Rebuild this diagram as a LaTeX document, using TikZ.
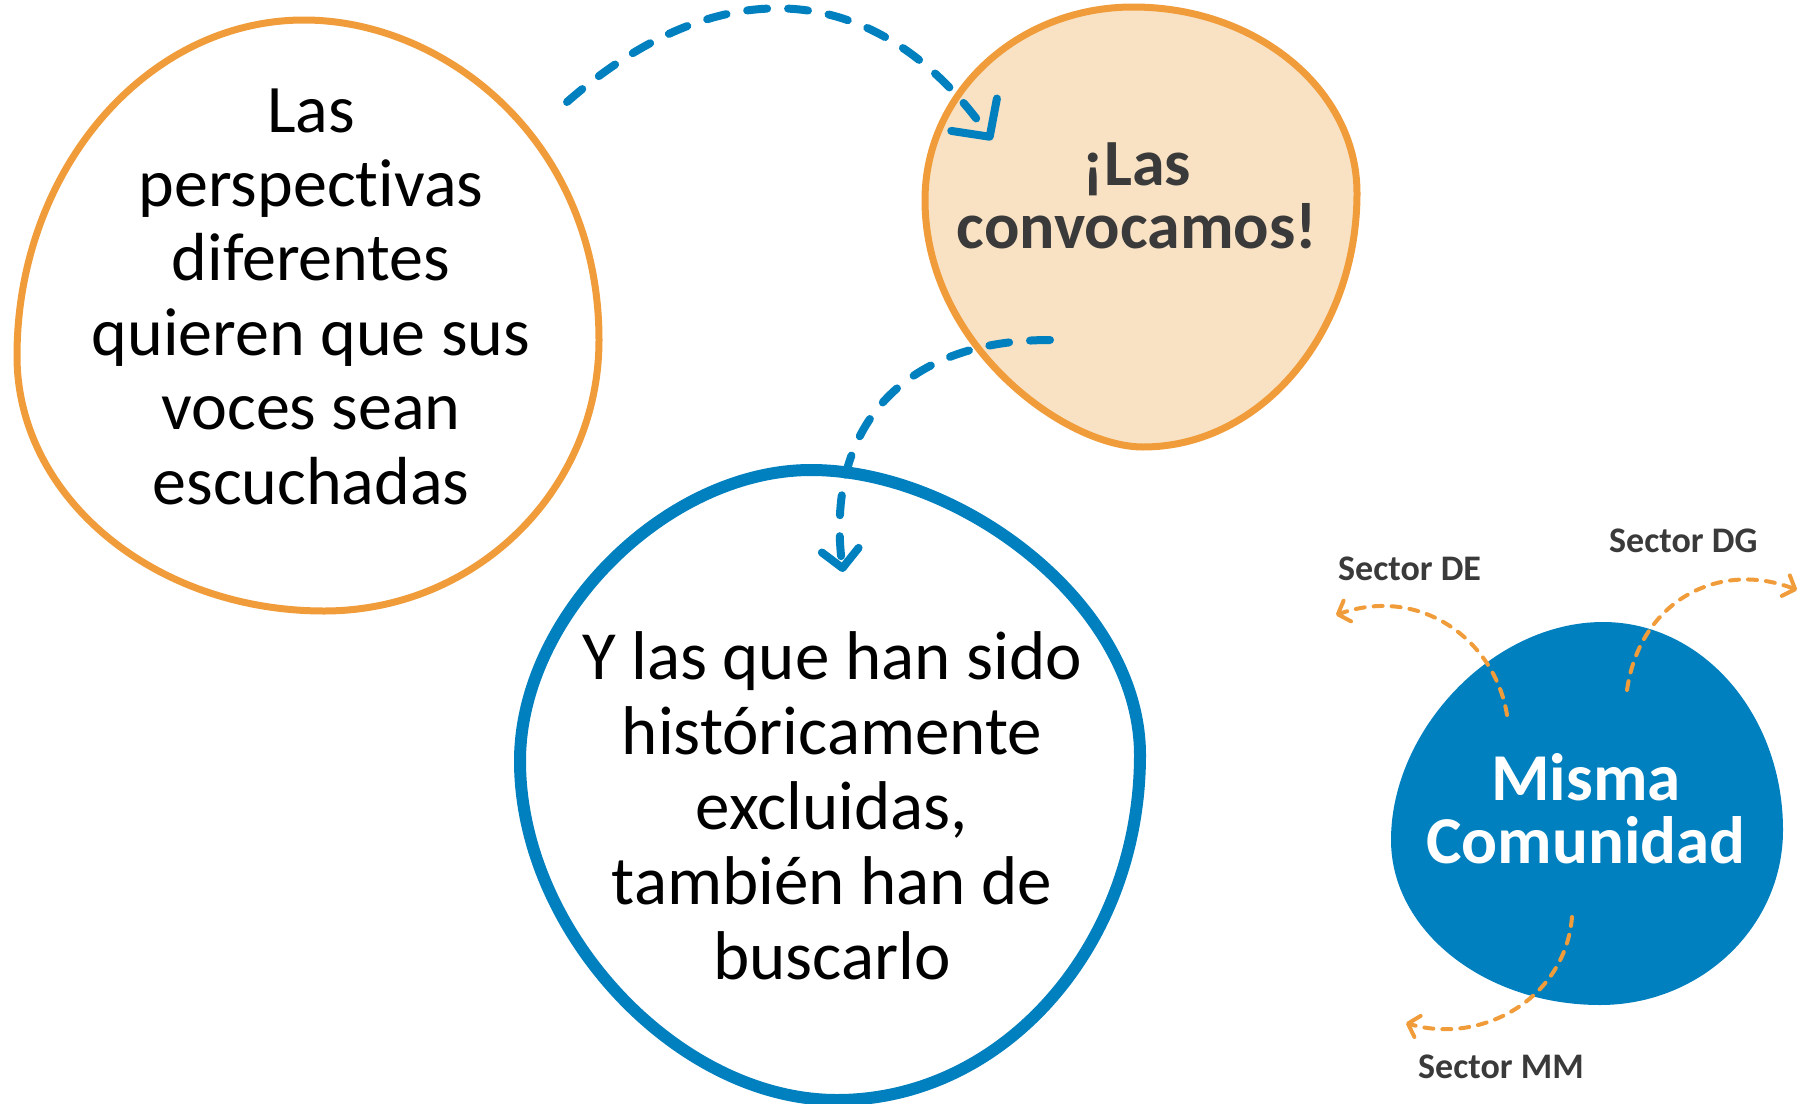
\documentclass[tikz,border=0pt]{standalone}
\usepackage{fontspec}
\setmainfont{Carlito}[Ligatures=NoCommon]
\usetikzlibrary{arrows.meta}
\definecolor{orng}{RGB}{240,156,58}
\definecolor{peach}{RGB}{249,226,196}
\definecolor{blu}{RGB}{0,128,190}
\definecolor{dgray}{RGB}{58,58,58}
\newcommand\centerlines[2]{\vtop{\baselineskip=#1\lineskiplimit=-100pt\relax\halign{\hfil##\hfil\cr#2\crcr}}}
\tikzset{
  orangeblob/.style={draw=orng, line width=7pt},
  blueblob/.style={draw=blu, line width=12pt, fill=white},
  blobtext/.style={anchor=base, inner sep=0pt},
  flowarrow/.style={draw=blu, line width=8pt, line cap=round, dash pattern=on 20pt off 21pt},
  sectorarrow/.style={draw=orng, line width=4pt, line cap=round, dash pattern=on 9pt off 9pt,
    -{Straight Barb[round,length=10pt,width=22pt]}},
  sectorlabel/.style={font=\bfseries\fontsize{36}{40}\selectfont, text=dgray, anchor=base west, inner sep=0pt},
}
\begin{document}
\begin{tikzpicture}[x=1pt,y=-1pt]
\useasboundingbox (0,0) rectangle (1807,1103);
% left blob
\draw[orangeblob, fill=white] (304,20) .. controls (444,20) and (599,140) .. (599,340)
  .. controls (599,490) and (476,611) .. (324,611)
  .. controls (154,611) and (17,497) .. (17,356)
  .. controls (17,171) and (146,20) .. (304,20) -- cycle;
% top right blob
\draw[orangeblob, fill=peach] (1133,7) .. controls (1257,7) and (1357,90) .. (1357,193)
  .. controls (1357,333) and (1261,447) .. (1143,447)
  .. controls (1065,447) and (925,345) .. (925,200)
  .. controls (925,93) and (1018,7) .. (1133,7) -- cycle;
% bottom blue blob
\draw[blueblob] (811,470) .. controls (961,470) and (1140,605) .. (1140,755)
  .. controls (1140,945) and (1004,1100) .. (837,1100)
  .. controls (677,1100) and (520,931) .. (520,761)
  .. controls (520,616) and (666,470) .. (811,470) -- cycle;
% misma comunidad blob
\fill[blu] (1603,622) .. controls (1703,622) and (1783,715) .. (1783,830)
  .. controls (1783,927) and (1701,1005) .. (1600,1005)
  .. controls (1485,1005) and (1391,931) .. (1391,840)
  .. controls (1391,730) and (1493,622) .. (1603,622) -- cycle;

% texts
\node[blobtext, font=\fontsize{68}{74.4}\selectfont] (lefttext) at (311,132)
  {\centerlines{74.4pt}{Las\cr perspectivas\cr diferentes\cr quieren que sus\cr voces sean\cr escuchadas}};
\node[blobtext, font=\bfseries\fontsize{66}{63}\selectfont, text=dgray] (convtext) at (1137,185)
  {\centerlines{63pt}{¡Las\cr convocamos!}};
\node[blobtext, font=\fontsize{69}{75.2}\selectfont] (bluetext) at (832,679)
  {\centerlines{75.2pt}{Y las que han sido\cr históricamente\cr excluidas,\cr también han de\cr buscarlo}};
\node[blobtext, font=\bfseries\fontsize{67}{63}\selectfont, text=white] (mismatext) at (1586,800)
  {\centerlines{63pt}{Misma\cr Comunidad}};

\node[sectorlabel] (secDE) at (1338,580) {Sector DE};
\node[sectorlabel] (secDG) at (1609,552) {Sector DG};
\node[sectorlabel] (secMM) at (1418,1078) {Sector MM};

% blue flow arrows
\coordinate (a1s) at (567,102);
\coordinate (a1e) at (992,140);
\coordinate (a2s) at (1050,340);
\coordinate (a2e) at (843,572);
\draw[flowarrow, -{Straight Barb[round,length=27pt,width=56pt]}] (a1s) .. controls (717,-30) and (875,-25) .. (a1e);
\draw[flowarrow, -{Straight Barb[round,length=18pt,width=37pt]}] (a2s) .. controls (900,340) and (825,430) .. (a2e);

% orange sector arrows
\coordinate (deS) at (1507,715);
\coordinate (deE) at (1336,615);
\coordinate (dgS) at (1627,690);
\coordinate (dgE) at (1797,590);
\coordinate (mmS) at (1572,917);
\coordinate (mmE) at (1406,1023);
\draw[sectorarrow] (deS) .. controls (1495,640) and (1420,585) .. (deE);
\draw[sectorarrow] (dgS) .. controls (1640,600) and (1720,560) .. (dgE);
\draw[sectorarrow] (mmS) .. controls (1565,1000) and (1480,1045) .. (mmE);
\end{tikzpicture}
\end{document}
